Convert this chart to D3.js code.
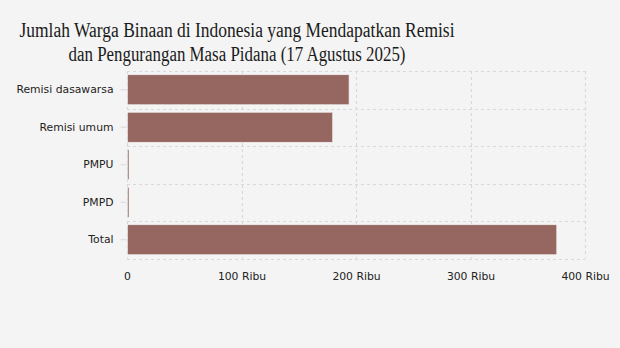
<!DOCTYPE html>
<html>
<head>
<meta charset="utf-8">
<script src="https://cdn.jsdelivr.net/npm/d3@7"></script>
<style>
  body { margin: 0; background: #f4f4f4; }
  svg { display: block; }
</style>
</head>
<body>
<svg id="chart" width="620" height="348"></svg>
<script>
// data (people)
const categories = ["Remisi dasawarsa", "Remisi umum", "PMPU", "PMPD", "Total"];
const values = [193500, 179200, 1150, 1050, 374900];
const xTicks = [0, 100000, 200000, 300000, 400000];
const xTickLabels = ["0", "100 Ribu", "200 Ribu", "300 Ribu", "400 Ribu"];
const titleLines = ["Jumlah Warga Binaan di Indonesia yang Mendapatkan Remisi",
                    "dan Pengurangan Masa Pidana (17 Agustus 2025)"];
const titleWidths = [435, 337];

const MARGIN = {left: 127, right: 35, top: 71, bottom: 90};
const WIDTH = 620, HEIGHT = 348;

const svg = d3.select("#chart");

svg.append("rect")
  .attr("width", WIDTH)
  .attr("height", HEIGHT)
  .attr("fill", "#f4f4f4");

// title (condensed serif look: squeeze to reference width)
svg.append("g")
  .selectAll("text")
  .data(titleLines)
  .join("text")
  .attr("x", 237)
  .attr("y", (d, i) => 37 + i * 23.5)
  .attr("text-anchor", "middle")
  .attr("textLength", (d, i) => titleWidths[i])
  .attr("lengthAdjust", "spacingAndGlyphs")
  .style("font-family", "'Liberation Serif', serif")
  .style("font-size", "20px")
  .style("fill", "#1a1a1a")
  .text(d => d);

const xScale = d3.scaleLinear()
  .domain([0, 400000])
  .range([MARGIN.left, WIDTH - MARGIN.right]);

const bottom = HEIGHT - MARGIN.bottom + 0.5;

const yScale = d3.scaleBand()
  .domain(categories)
  .range([MARGIN.top, bottom])
  .padding(0);

// grid
const grid = svg.append("g")
  .attr("stroke", "#d9d9d9")
  .attr("stroke-width", 1.2)
  .attr("stroke-dasharray", "3,3");

grid.selectAll("line.v")
  .data(xTicks)
  .join("line")
  .attr("class", "v")
  .attr("x1", d => Math.round(xScale(d)) + 0.5)
  .attr("x2", d => Math.round(xScale(d)) + 0.5)
  .attr("y1", MARGIN.top)
  .attr("y2", bottom);

const rowEdges = categories.map(c => yScale(c)).concat([bottom]);
grid.selectAll("line.h")
  .data(rowEdges)
  .join("line")
  .attr("class", "h")
  .attr("x1", MARGIN.left)
  .attr("x2", WIDTH - MARGIN.right)
  .attr("y1", d => Math.round(d) + 0.5)
  .attr("y2", d => Math.round(d) + 0.5);

// bars
const inner = d3.scaleBand()
  .domain(categories)
  .range([MARGIN.top, bottom])
  .paddingInner(0.2)
  .paddingOuter(0.1);

svg.append("g")
  .selectAll("rect")
  .data(values)
  .join("rect")
  .attr("x", xScale(0) + 0.5)
  .attr("y", (d, i) => inner(categories[i]))
  .attr("width", d => Math.max(xScale(d) - xScale(0), 1.5))
  .attr("height", inner.bandwidth())
  .attr("fill", "#956760")
  .attr("stroke", "#f4f4f4")
  .attr("stroke-width", 0.6);

// y axis
const yAxis = svg.append("g")
  .attr("transform", `translate(${MARGIN.left - 0.5}, 0)`)
  .call(d3.axisLeft(yScale).tickSize(6).tickPadding(7));
yAxis.select(".domain").remove();
yAxis.selectAll(".tick line").attr("stroke", "#d9d9d9");
yAxis.selectAll(".tick text")
  .style("font-family", "'DejaVu Sans', Verdana, sans-serif")
  .style("font-size", "10.8px")
  .style("fill", "#222");

// x axis
const xAxis = svg.append("g")
  .attr("transform", `translate(0, ${bottom})`)
  .call(d3.axisBottom(xScale).tickValues(xTicks).tickFormat((d, i) => xTickLabels[i]).tickSize(0).tickPadding(14));
xAxis.select(".domain").remove();
xAxis.selectAll(".tick text")
  .style("font-family", "'DejaVu Sans', Verdana, sans-serif")
  .style("font-size", "10.8px")
  .style("fill", "#222");
</script>
</body>
</html>
